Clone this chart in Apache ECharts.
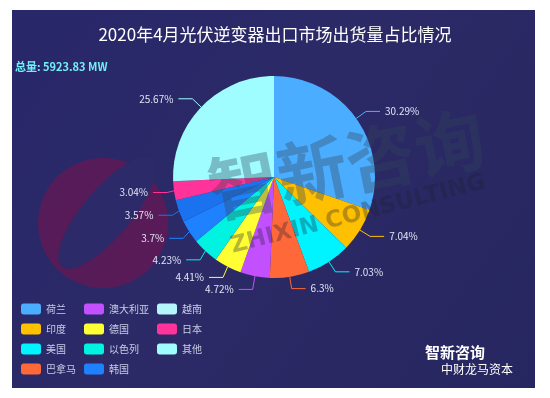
<!DOCTYPE html>
<html>
<head>
<meta charset="utf-8">
<script src="https://cdn.jsdelivr.net/npm/echarts@6/dist/echarts.min.js"></script>
<style>
  html, body { margin: 0; padding: 0; background: #fff; }
  #chart { width: 550px; height: 398px; }
</style>
</head>
<body>
<div id="chart"></div>
<script>
const titleText = '2020年4月光伏逆变器出口市场出货量占比情况';
const totalText = '总量: 5923.83 MW';
const countries = ['荷兰', '印度', '美国', '巴拿马', '澳大利亚', '德国', '以色列', '韩国', '越南', '日本', '其他'];
const shares = [30.29, 7.04, 7.03, 6.3, 4.72, 4.41, 4.23, 3.7, 3.57, 3.04, 25.67];
const sliceColors = ['#4badff', '#ffc000', '#00f4ff', '#ff6838', '#c250ff', '#ffff33', '#00f2e0', '#1e82ff', '#1a72ee', '#ff3399', '#9ffcff'];
const legendColors = ['#4badff', '#ffc000', '#00f4ff', '#ff6838', '#c250ff', '#ffff33', '#00f2e0', '#1e82ff', '#b4f6fc', '#ff3399', '#9ffcff'];

const font = '"Noto Sans CJK SC", "Noto Sans", sans-serif';
const chart = echarts.init(document.getElementById('chart'));

const option = {
  backgroundColor: '#fff',
  graphic: [
    {
      type: 'rect',
      z: 0,
      shape: { x: 12, y: 10, width: 523, height: 378 },
      style: {
        fill: new echarts.graphic.LinearGradient(0, 0, 1, 1, [
          { offset: 0, color: '#28276a' },
          { offset: 0.5, color: '#2c2a66' },
          { offset: 1, color: '#262660' }
        ])
      }
    },
    // faint logo watermark on the left
    {
      type: 'circle',
      z: 1,
      shape: { cx: 103, cy: 223, r: 65 },
      style: { fill: 'rgba(150,10,70,0.42)' }
    },
    {
      type: 'ellipse',
      z: 1,
      x: 107,
      y: 213,
      rotation: 0.87,
      shape: { cx: 0, cy: 0, rx: 70, ry: 24 },
      style: { fill: '#2c2a68' }
    },
    {
      type: 'text',
      z: 10,
      x: 216,
      y: 226,
      rotation: 0.2,
      style: {
        text: '智新咨询',
        fill: 'rgba(50,70,90,0.35)',
        font: 'bold 70px ' + font,
        verticalAlign: 'bottom'
      }
    },
    {
      type: 'text',
      z: 10,
      x: 234,
      y: 258,
      rotation: 0.25,
      style: {
        text: 'ZHIXIN CONSULTING',
        fill: 'rgba(30,30,50,0.32)',
        font: 'bold 23px "DejaVu Sans", sans-serif',
        verticalAlign: 'bottom'
      }
    },
    {
      type: 'text',
      z: 1,
      left: 425,
      top: 345,
      style: { text: '智新咨询', fill: '#ffffff', font: 'bold 15px ' + font }
    },
    {
      type: 'text',
      z: 1,
      left: 441,
      top: 363,
      style: { text: '中财龙马资本', fill: '#ffffff', font: '12px ' + font }
    }
  ],
  title: [
    {
      text: titleText,
      left: 'center',
      top: 21,
      textStyle: { color: '#ffffff', fontSize: 17, fontWeight: 'normal', fontFamily: font }
    },
    {
      text: totalText,
      left: 10,
      top: 56,
      textStyle: { color: '#6ff0f5', fontSize: 11, fontWeight: 'bold', fontFamily: font }
    }
  ],
  legend: {
    orient: 'vertical',
    left: 16,
    top: 298,
    height: 80,
    itemWidth: 20,
    itemHeight: 11,
    itemGap: 8,
    icon: 'roundRect',
    textStyle: { color: '#c8cde6', fontSize: 10, lineHeight: 12, fontFamily: font },
    data: countries.map((name, i) => ({ name, itemStyle: { color: legendColors[i] } }))
  },
  series: [
    {
      type: 'pie',
      center: [274, 177],
      radius: 101,
      startAngle: 90,
      z: 2,
      label: {
        color: '#dfe4f4',
        fontSize: 10,
        fontFamily: font,
        formatter: p => p.value + '%'
      },
      labelLine: { length: 12, length2: 14, lineStyle: { width: 1 } },
      itemStyle: { borderWidth: 0 },
      emphasis: { disabled: true },
      data: countries.map((name, i) => ({
        name,
        value: shares[i],
        itemStyle: { color: sliceColors[i] }
      }))
    }
  ]
};

chart.setOption(option);
</script>
</body>
</html>
